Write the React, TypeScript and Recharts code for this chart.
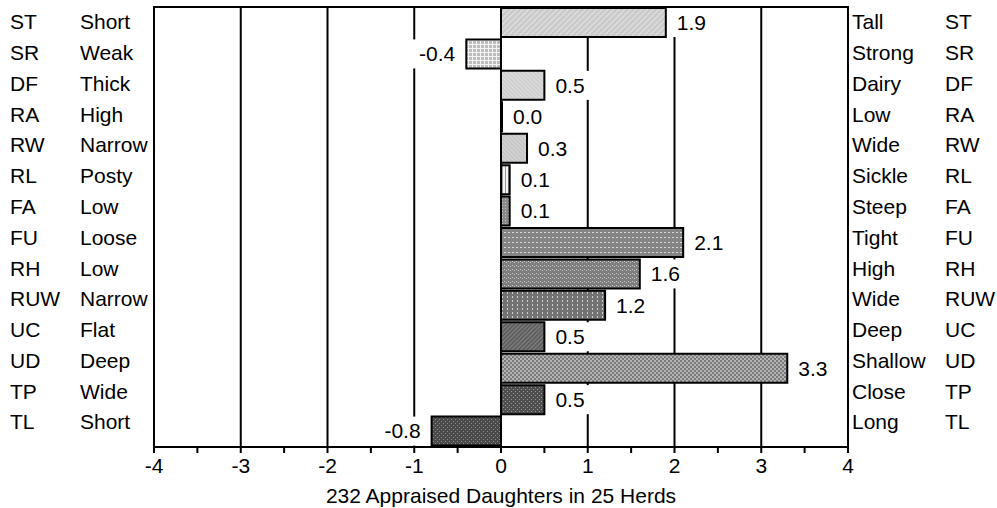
import React from "react";
import {
  Bar,
  BarChart,
  CartesianGrid,
  Cell,
  LabelList,
  XAxis,
  YAxis,
} from "recharts";

const codes = ["ST", "SR", "DF", "RA", "RW", "RL", "FA", "FU", "RH", "RUW", "UC", "UD", "TP", "TL"];
const lowTraits = ["Short", "Weak", "Thick", "High", "Narrow", "Posty", "Low", "Loose", "Low", "Narrow", "Flat", "Deep", "Wide", "Short"];
const highTraits = ["Tall", "Strong", "Dairy", "Low", "Wide", "Sickle", "Steep", "Tight", "High", "Wide", "Deep", "Shallow", "Close", "Long"];
const values = [1.9, -0.4, 0.5, 0.0, 0.3, 0.1, 0.1, 2.1, 1.6, 1.2, 0.5, 3.3, 0.5, -0.8];

const axisTicks = [-4, -3.5, -3, -2.5, -2, -1.5, -1, -0.5, 0, 0.5, 1, 1.5, 2, 2.5, 3, 3.5, 4];
const gridTicks = [-4, -3, -2, -1, 0, 1, 2, 3, 4];
const axisTitle = "232 Appraised Daughters in 25 Herds";

const data = codes.map((code, i) => ({
  code,
  low: lowTraits[i],
  high: highTraits[i],
  value: values[i],
}));

const FONT = "'Liberation Sans', Arial, sans-serif";
const FS = 21;

const CHART_W = 997;
const CHART_H = 508;
const MARGIN = { top: 7, right: 0, bottom: 0, left: 0 };
const LEFT_W = 154;
const RIGHT_W = 149;

// rough Arial advance widths, used only to size the white label boxes
const textWidth = (s: string) =>
  s.split("").reduce((w, c) => w + (c === "." ? 0.278 : c === "-" ? 0.333 : 0.556) * FS, 0);

// side labels sit on a slightly tighter pitch than the bars in the original
const squeeze = (y: number) => 22 + (y - 22.7) * (400 / 408.6);

const LeftTick = (props: any) => {
  const { y, index } = props;
  const ty = squeeze(y);
  return (
    <g>
      <text x={10} y={ty} dy="0.35em" fontSize={FS} fontFamily={FONT} fill="#000">
        {codes[index]}
      </text>
      <text x={80} y={ty} dy="0.35em" fontSize={FS} fontFamily={FONT} fill="#000">
        {lowTraits[index]}
      </text>
    </g>
  );
};

const RightTick = (props: any) => {
  const { y, index } = props;
  const ty = squeeze(y);
  return (
    <g>
      <text x={852} y={ty} dy="0.35em" fontSize={FS} fontFamily={FONT} fill="#000">
        {highTraits[index]}
      </text>
      <text x={945} y={ty} dy="0.35em" fontSize={FS} fontFamily={FONT} fill="#000">
        {codes[index]}
      </text>
    </g>
  );
};

const BottomTick = (props: any) => {
  const { x, y, payload } = props;
  if (!Number.isInteger(payload.value)) return <g />;
  return (
    <text x={x} y={y} dy="0.75em" textAnchor="middle" fontSize={FS} fontFamily={FONT} fill="#000">
      {payload.value}
    </text>
  );
};

const ValueLabel = (props: any) => {
  const { x, y, width, height, value } = props;
  const v = Number(value);
  const left = Math.min(x, x + width);
  const right = Math.max(x, x + width);
  const txt = v.toFixed(1);
  const tw = textWidth(txt);
  const pos = v >= 0;
  const tx = pos ? right + 11 : left - 11;
  const bx = pos ? right + 2 : tx - tw - 10;
  const bw = pos ? tx + tw + 8 - bx : left - 2 - bx;
  return (
    <g>
      <rect x={bx} y={y} width={bw} height={height} fill="#fff" />
      <text
        x={tx}
        y={y + height / 2}
        dy="0.35em"
        textAnchor={pos ? "start" : "end"}
        fontSize={FS}
        fontFamily={FONT}
        fill="#000"
      >
        {txt}
      </text>
    </g>
  );
};

const Patterns = () => (
  <defs>
    <pattern id="p0" width="4" height="4" patternUnits="userSpaceOnUse" patternTransform="rotate(45)">
      <rect width="4" height="4" fill="#cbcbcb" />
      <line x1="0" y1="0" x2="0" y2="4" stroke="#eeeeee" strokeWidth="1.4" />
    </pattern>
    <pattern id="p1" width="4" height="4" patternUnits="userSpaceOnUse">
      <rect width="4" height="4" fill="#bdbdbd" />
      <line x1="0" y1="0.5" x2="4" y2="0.5" stroke="#f4f4f4" strokeWidth="1" />
      <line x1="0.5" y1="0" x2="0.5" y2="4" stroke="#f4f4f4" strokeWidth="1" />
    </pattern>
    <pattern id="p2" width="3" height="3" patternUnits="userSpaceOnUse" patternTransform="rotate(-45)">
      <rect width="3" height="3" fill="#cfcfcf" />
      <line x1="0" y1="0" x2="0" y2="3" stroke="#ededed" strokeWidth="1" />
    </pattern>
    <pattern id="p3" width="3" height="3" patternUnits="userSpaceOnUse">
      <rect width="3" height="3" fill="#cccccc" />
    </pattern>
    <pattern id="p4" width="3" height="3" patternUnits="userSpaceOnUse" patternTransform="rotate(-45)">
      <rect width="3" height="3" fill="#c6c6c6" />
      <line x1="0" y1="0" x2="0" y2="3" stroke="#e8e8e8" strokeWidth="1" />
    </pattern>
    <pattern id="p5" width="3" height="3" patternUnits="userSpaceOnUse">
      <rect width="3" height="3" fill="#f4f4f4" />
      <line x1="1.5" y1="0" x2="1.5" y2="3" stroke="#9a9a9a" strokeWidth="1" />
    </pattern>
    <pattern id="p6" width="3" height="3" patternUnits="userSpaceOnUse">
      <rect width="3" height="3" fill="#8a8a8a" />
      <rect x="1" y="1" width="1" height="1" fill="#c0c0c0" />
    </pattern>
    <pattern id="p7" width="4" height="5" patternUnits="userSpaceOnUse">
      <rect width="4" height="5" fill="#858585" />
      <rect x="0" y="2" width="2" height="1" fill="#d8d8d8" />
    </pattern>
    <pattern id="p8" width="4" height="4" patternUnits="userSpaceOnUse">
      <rect width="4" height="4" fill="#7e7e7e" />
      <rect x="0" y="1" width="1" height="1" fill="#c8c8c8" />
      <rect x="2" y="2" width="1" height="1" fill="#c8c8c8" />
    </pattern>
    <pattern id="p9" width="5" height="4" patternUnits="userSpaceOnUse">
      <rect width="5" height="4" fill="#727272" />
      <rect x="2" y="0" width="1" height="2" fill="#d0d0d0" />
    </pattern>
    <pattern id="p10" width="3" height="3" patternUnits="userSpaceOnUse" patternTransform="rotate(45)">
      <rect width="3" height="3" fill="#5e5e5e" />
      <line x1="0" y1="0" x2="0" y2="3" stroke="#a8a8a8" strokeWidth="1" />
    </pattern>
    <pattern id="p11" width="4" height="4" patternUnits="userSpaceOnUse">
      <rect width="4" height="4" fill="#b4b4b4" />
      <rect x="0" y="0" width="2" height="2" fill="#7a7a7a" />
      <rect x="2" y="2" width="2" height="2" fill="#7a7a7a" />
    </pattern>
    <pattern id="p12" width="4" height="4" patternUnits="userSpaceOnUse">
      <rect width="4" height="4" fill="#4e4e4e" />
      <rect x="1" y="1" width="1" height="1" fill="#9a9a9a" />
      <rect x="3" y="3" width="1" height="1" fill="#9a9a9a" />
    </pattern>
    <pattern id="p13" width="4" height="4" patternUnits="userSpaceOnUse">
      <rect width="4" height="4" fill="#4a4a4a" />
      <rect x="1" y="1" width="1" height="1" fill="#8c8c8c" />
      <rect x="3" y="3" width="1" height="1" fill="#8c8c8c" />
    </pattern>
  </defs>
);

const scaleOf = (axis: any, t: number) =>
  typeof axis.scale === "function" ? axis.scale(t) : axis.scale.map(t);

export default function App() {
  return (
    <div style={{ position: "absolute", left: 0, top: 0, width: CHART_W, height: CHART_H, background: "#fff" }}>
      <BarChart
        width={CHART_W}
        height={CHART_H}
        data={data}
        layout="vertical"
        margin={MARGIN}
        barCategoryGap={1}
      >
        <Patterns />
        <CartesianGrid
          horizontal={false}
          stroke="#000"
          strokeWidth={2}
          verticalCoordinatesGenerator={({ xAxis }: any) => gridTicks.map((t) => scaleOf(xAxis, t))}
        />
        <XAxis
          type="number"
          domain={[-4, 4]}
          ticks={axisTicks}
          interval={0}
          height={61}
          tickSize={6}
          tickMargin={4}
          tick={<BottomTick />}
          axisLine={{ stroke: "#000", strokeWidth: 2 }}
          tickLine={{ stroke: "#000", strokeWidth: 2 }}
          label={{
            value: axisTitle,
            position: "insideBottom",
            offset: 5,
            style: { fill: "#000", fontSize: FS, fontFamily: FONT },
          }}
        />
        <YAxis
          type="category"
          dataKey="code"
          width={LEFT_W}
          tick={<LeftTick />}
          tickLine={false}
          interval={0}
          axisLine={{ stroke: "#000", strokeWidth: 2 }}
        />
        <YAxis
          yAxisId="right"
          orientation="right"
          type="category"
          dataKey="code"
          width={RIGHT_W}
          tick={<RightTick />}
          tickLine={false}
          interval={0}
          axisLine={{ stroke: "#000", strokeWidth: 2 }}
        />
        <Bar dataKey="value" stroke="#000" strokeWidth={2} minPointSize={1} isAnimationActive={false}>
          {data.map((d, i) => (
            <Cell key={d.code} fill={`url(#p${i})`} />
          ))}
          <LabelList dataKey="value" content={<ValueLabel />} />
        </Bar>
      </BarChart>
      {/* top edge of the plot frame */}
      <div
        style={{
          position: "absolute",
          left: LEFT_W - 1,
          top: MARGIN.top - 1,
          width: CHART_W - LEFT_W - RIGHT_W + 2,
          height: 2,
          background: "#000",
          pointerEvents: "none",
        }}
      />
    </div>
  );
}
